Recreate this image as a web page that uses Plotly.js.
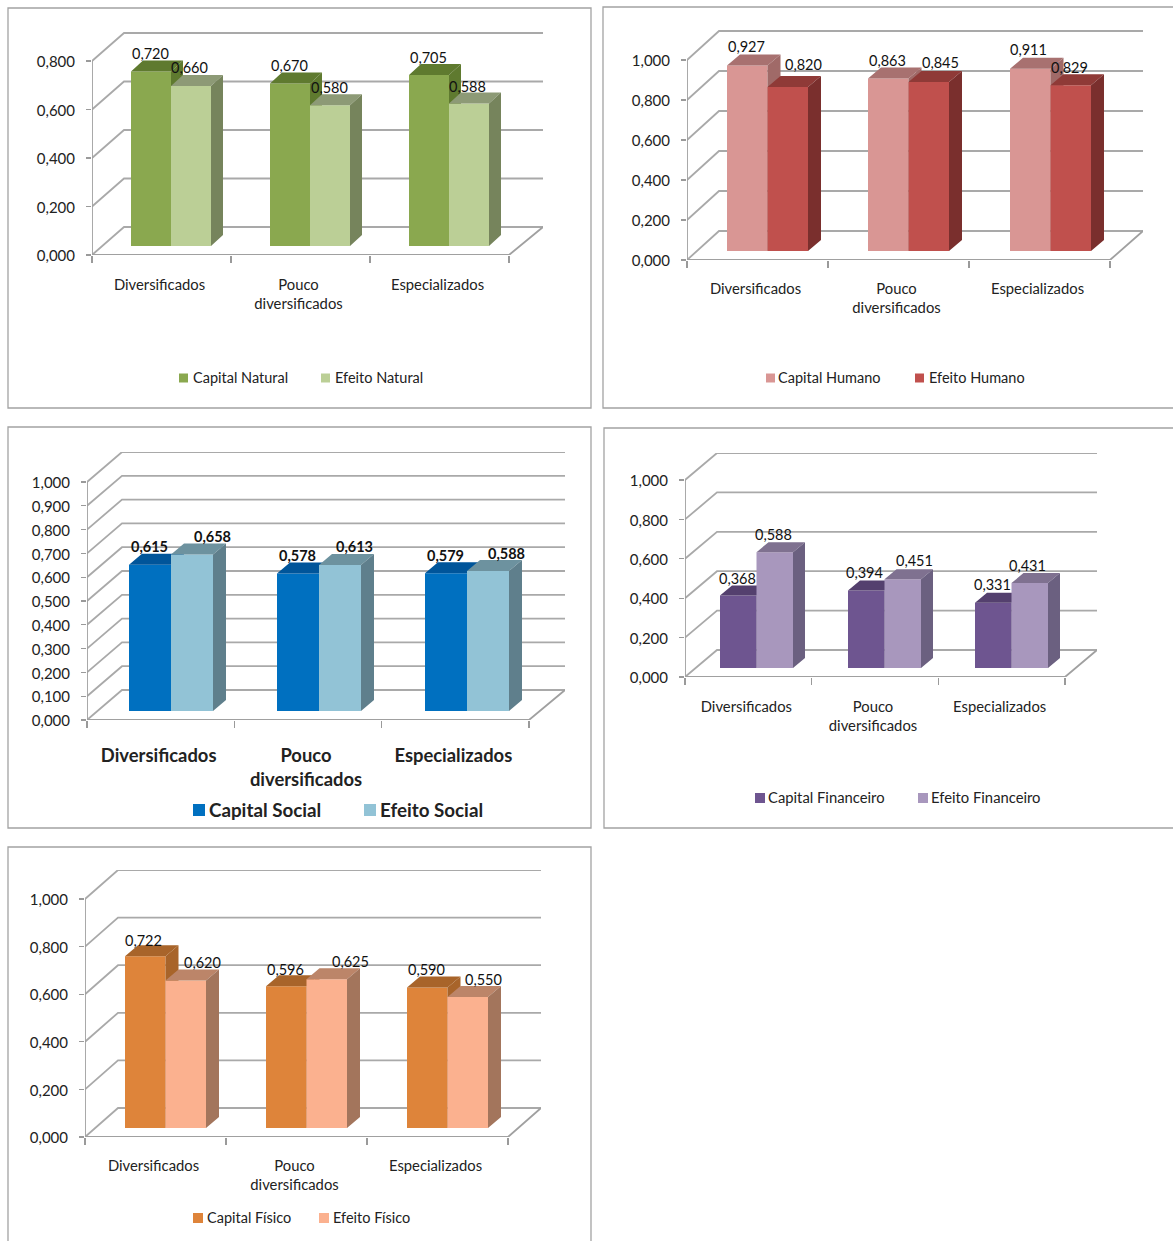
<!DOCTYPE html>
<html>
<head>
<meta charset="utf-8">
<script src="https://cdn.plot.ly/plotly-3.0.1.min.js"></script>
<style>html,body{margin:0;padding:0;background:#fff;overflow:hidden}</style>
</head>
<body>
<div id="chart" style="width:1173px;height:1241px"></div>
<script>
// ---- chart values ----
const categories = ['Diversificados', 'Pouco<br>diversificados', 'Especializados'];
const capitalNatural = [0.720, 0.670, 0.705];
const efeitoNatural = [0.660, 0.580, 0.588];
const capitalHumano = [0.927, 0.863, 0.911];
const efeitoHumano = [0.820, 0.845, 0.829];
const capitalSocial = [0.615, 0.578, 0.579];
const efeitoSocial = [0.658, 0.613, 0.588];
const capitalFinanceiro = [0.368, 0.394, 0.331];
const efeitoFinanceiro = [0.588, 0.451, 0.431];
const capitalFisico = [0.722, 0.596, 0.590];
const efeitoFisico = [0.620, 0.625, 0.550];

// ---- panel geometry and styles (page pixels) ----
const W = 1173, H = 1241;
const FONT = 'Lato, "Noto Sans", sans-serif';
const panels = [
  {frame:[8,8,591,408], ox:92, y0:255, xFront:509, xBack:543, yMax:61, yBack:31, max:0.8, step:0.2,
   floorDx:32, floorDy:28, barBottom:246, barLeft:[131,270,409], barW:40, sideDx:12, sideDy:11,
   names:['Capital Natural','Efeito Natural'], values:[capitalNatural,efeitoNatural],
   front:['#8AA84F','#BBCF96'], top:['#5F7A2F','#8D9A76'], side:['#5F7A2F','#76845C'],
   shift:[[-1,7],[-2,7],[-1,7.5],[-1,7],[-1,7],[-2,6]],
   legendY:377, swatch:[[179,9],[321,9]], legendX:[191,333], labelSize:14.8, legendSize:14.5, bold:false, standoff:19},
  {frame:[603,7,1180,408], ox:687, y0:260, xFront:1110, xBack:1143, yMax:60, yBack:30, max:1, step:0.2,
   floorDx:32, floorDy:29, barBottom:251, barLeft:[727,868,1010], barW:40.5, sideDx:13, sideDy:11,
   names:['Capital Humano','Efeito Humano'], values:[capitalHumano,efeitoHumano],
   front:['#D99694','#C0504D'], top:['#A87170','#8F3A37'], side:['#A06A68','#7A2F2D'],
   shift:[[-1,8],[16,11],[-1,7],[12,8],[-2,8],[-1,7]],
   legendY:377, swatch:[[766,9],[915,9]], legendX:[776,927], labelSize:14.8, legendSize:14.5, bold:false, standoff:18},
  {frame:[8,427,591,828], ox:87, y0:720, xFront:529, xBack:565, yMax:482, yBack:452, max:1, step:0.1,
   floorDx:35, floorDy:30, barBottom:711, barLeft:[129,277,425], barW:42, sideDx:13, sideDy:11,
   names:['Capital Social','Efeito Social'], values:[capitalSocial,efeitoSocial],
   front:['#0070C0','#92C3D6'], top:['#00559A','#6D929F'], side:['#00559A','#5F7F8C'],
   shift:[[-1,7],[20,7],[-1,7],[14,8],[-1,7],[18,7]],
   legendY:809, swatch:[[193,12],[364,12]], legendX:[207,378], labelSize:18.4, legendSize:18.8, bold:true, standoff:23},
  {frame:[604,428,1180,828], ox:685, y0:677, xFront:1065, xBack:1097, yMax:480, yBack:453, max:1, step:0.2,
   floorDx:32, floorDy:27, barBottom:668, barLeft:[720,848,975], barW:36.5, sideDx:12, sideDy:10,
   names:['Capital Financeiro','Efeito Financeiro'], values:[capitalFinanceiro,efeitoFinanceiro],
   front:['#6E5590','#A897BD'], top:['#54406E','#7F7190'], side:['#54406E','#6B6080'],
   shift:[[-1,7.5],[-1,8],[-2,8],[12,9],[-1,8],[-2,8]],
   legendY:797, swatch:[[755,10],[918,10]], legendX:[766,929], labelSize:14.8, legendSize:14.8, bold:false, standoff:19},
  {frame:[8,847,591,1250], ox:85, y0:1137, xFront:508, xBack:541, yMax:899, yBack:870, max:1, step:0.2,
   floorDx:33, floorDy:29, barBottom:1128, barLeft:[125,266,407], barW:40.5, sideDx:13, sideDy:11,
   names:['Capital Físico','Efeito Físico'], values:[capitalFisico,efeitoFisico],
   front:['#DE843A','#FBB18F'], top:['#A8642A','#BC8569'], side:['#A8642A','#A3755C'],
   shift:[[-2,5],[17,7],[-1,6],[24,7],[-1,7],[16,7]],
   legendY:1217, swatch:[[193,10],[319,10]], legendX:[205,331], labelSize:14.8, legendSize:14.5, bold:false, standoff:18}
];

const px = x => x / W, py = y => 1 - y / H;
const fmt = v => v.toFixed(3).replace('.', ',');
const traces = [], shapes = [], annotations = [];
const layout = {
  width: W, height: H, margin: {l:0, r:0, t:0, b:0, pad:0},
  paper_bgcolor:'#fff', plot_bgcolor:'rgba(0,0,0,0)', showlegend:false, barmode:'overlay',
  separators:',.', font:{family:FONT, color:'#222'}, shapes, annotations
};

panels.forEach((p, i) => {
  const s = i === 0 ? '' : String(i + 1);
  const xa = 'x' + s, ya = 'y' + s;
  const catW = (p.xFront - p.ox) / categories.length;
  const pxU = (p.y0 - p.yMax) / p.max;
  const weight = p.bold ? 'bold' : 'normal';
  const textFont = {family:FONT, size:p.labelSize, color:'#222', weight};

  const ticks = [];
  for (let k = 0; k <= Math.round(p.max / p.step); k++) ticks.push(+(k * p.step).toFixed(3));
  const centers = categories.map((c, k) => k + 0.5);

  layout['xaxis' + s] = {
    domain:[px(p.ox), px(p.xBack)], range:[0, (p.xBack - p.ox) / catW], anchor:ya,
    tickmode:'array', tickvals:centers, ticktext:categories, ticks:'', ticklabelshift:-2,
    ticklabelstandoff:p.standoff, tickfont:textFont, showgrid:false, zeroline:false, showline:false,
    minor:{tickmode:'array', tickvals:categories.map((c,k)=>k).concat([categories.length]), ticks:'outside', ticklen:7, tickwidth:1.2, tickcolor:'#9a9a9a', showgrid:false},
    fixedrange:true
  };
  layout['yaxis' + s] = {
    domain:[py(p.y0), py(p.yBack)], range:[0, (p.y0 - p.yBack) / pxU], anchor:xa,
    tickmode:'array', tickvals:ticks, ticktext:ticks.map(fmt), ticks:'outside', ticklen:5, tickwidth:1.2, tickcolor:'#9a9a9a',
    ticklabelstandoff:8, ticklabelshift:1, tickfont:{family:FONT, size:15, color:'#222'}, showgrid:false, zeroline:false, showline:false,
    fixedrange:true
  };

  // wall grid lines, floor and front axis, from the tick values
  const dU = p.floorDx / catW, hU = p.floorDy / pxU, endU = (p.xBack - p.ox) / catW;
  const gx = [], gy = [];
  ticks.forEach(v => { gx.push(0, dU, endU, null); gy.push(v, v + hU, v + hU, null); });
  traces.push({type:'scatter', mode:'lines', x:gx, y:gy, xaxis:xa, yaxis:ya, cliponaxis:false,
    line:{color:'#a9a9a9', width:1.8}, hoverinfo:'skip', zorder:0});
  traces.push({type:'scatter', mode:'lines',
    x:[0, 0, null, 0, categories.length, endU], y:[0, p.max, null, 0, 0, hU],
    xaxis:xa, yaxis:ya, cliponaxis:false, line:{color:'#a0a0a0', width:1.8}, hoverinfo:'skip', zorder:0});

  // bars: front face, top face, side face
  const wU = p.barW / catW, sdU = p.sideDx / catW, shU = p.sideDy / pxU;
  const baseU = (p.y0 - p.barBottom) / pxU;
  p.values.forEach((vals, sIdx) => {
    const lefts = p.barLeft.map(b => (b - p.ox) / catW + sIdx * wU);
    const zorder = sIdx + 1;
    traces.push({type:'bar', name:p.names[sIdx], x:lefts.map(l => l + wU / 2), y:vals, base:baseU,
      width:wU, marker:{color:p.front[sIdx], line:{width:0}}, xaxis:xa, yaxis:ya, zorder, hoverinfo:'y'});
    const tx = [], ty = [], sx = [], sy = [];
    vals.forEach((v, k) => {
      const l = lefts[k], r = l + wU, t = baseU + v;
      tx.push(l, r, r + sdU, l + sdU, l, null); ty.push(t, t, t + shU, t + shU, t, null);
      sx.push(r, r + sdU, r + sdU, r, r, null); sy.push(baseU, baseU + shU, t + shU, t, baseU, null);
    });
    [[tx, ty, p.top[sIdx]], [sx, sy, p.side[sIdx]]].forEach(([fx, fy, c]) => {
      traces.push({type:'scatter', mode:'lines', x:fx, y:fy, fill:'toself', fillcolor:c, line:{width:0, color:c},
        xaxis:xa, yaxis:ya, hoverinfo:'skip', zorder});
    });
    // data labels
    vals.forEach((v, k) => {
      const sh = p.shift[k * 2 + sIdx];
      annotations.push({xref:xa, yref:ya, x:lefts[k] + wU / 2, y:baseU + v + shU, text:fmt(v), showarrow:false,
        xanchor:'center', yanchor:'middle', xshift:sh[0], yshift:sh[1],
        font:{family:FONT, size:14.5, color:'#111', weight}});
    });
    // legend entry
    const [sxp, sw] = p.swatch[sIdx];
    shapes.push({type:'rect', xref:'paper', yref:'paper', x0:px(sxp), x1:px(sxp + sw),
      y0:py(p.legendY + 1 + sw / 2), y1:py(p.legendY + 1 - sw / 2), fillcolor:p.front[sIdx], line:{width:0}});
    annotations.push({xref:'paper', yref:'paper', x:px(p.legendX[sIdx]), y:py(p.legendY), text:p.names[sIdx],
      showarrow:false, xanchor:'left', yanchor:'middle', font:{family:FONT, size:p.legendSize, color:'#222', weight}});
  });

  // frame
  const [fx0, fy0, fx1, fy1] = p.frame;
  shapes.push({type:'rect', xref:'paper', yref:'paper', x0:px(fx0), x1:px(fx1), y0:py(fy1), y1:py(fy0),
    line:{color:'#a3a3a3', width:1.3}, fillcolor:'rgba(0,0,0,0)', layer:'below'});
});

Plotly.newPlot('chart', traces, layout, {displayModeBar:false, staticPlot:true});
</script>
</body>
</html>
